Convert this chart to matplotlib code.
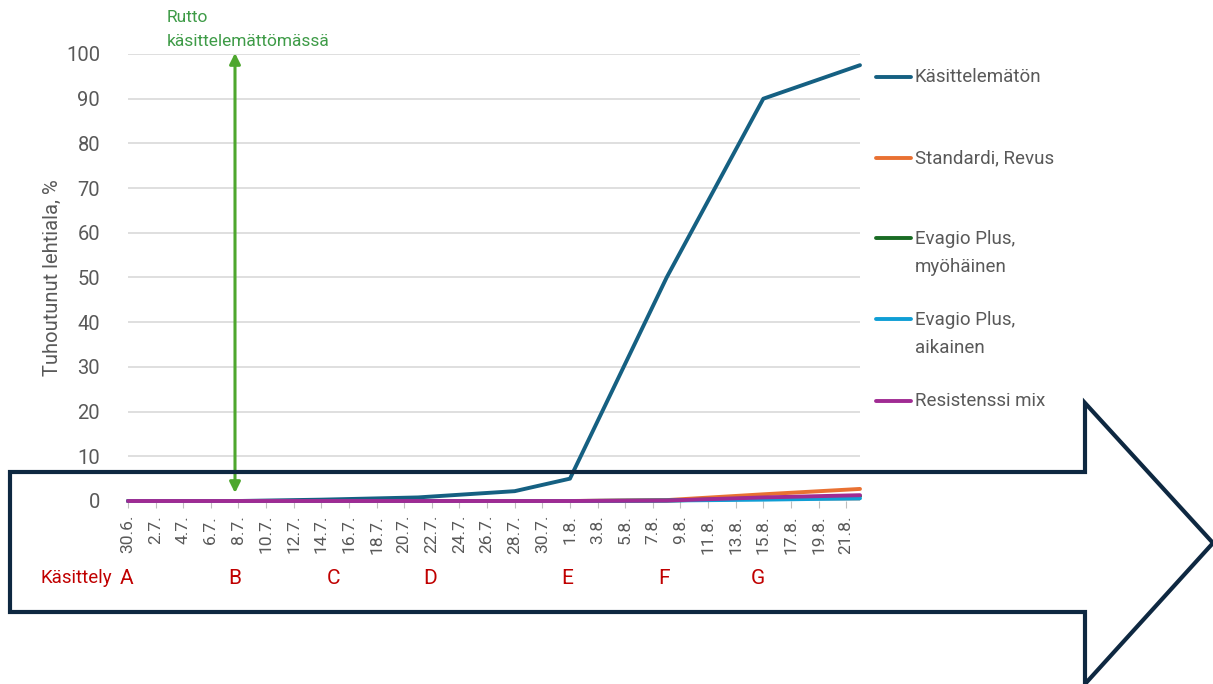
import matplotlib
matplotlib.use("Agg")
import matplotlib.pyplot as plt
import matplotlib.dates as mdates
from matplotlib.patches import Polygon
from matplotlib.lines import Line2D
import pandas as pd

plt.rcParams['font.family'] = ['Roboto', 'DejaVu Sans']

# ---- data ----
dates = pd.to_datetime(["2024-06-30", "2024-07-08", "2024-07-14", "2024-07-21", "2024-07-28",
                        "2024-08-01", "2024-08-08", "2024-08-15", "2024-08-22"])
kasittelematon = [0, 0, 0.3, 0.8, 2.2, 5.0, 50, 90, 97.5]
standardi_revus = [0, 0, 0, 0, 0, 0, 0.2, 1.5, 2.7]
evagio_myohainen = [0, 0, 0, 0, 0, 0, 0.1, 0.6, 1.1]
evagio_aikainen = [0, 0, 0, 0, 0, 0, 0.1, 0.3, 0.6]
resistenssi_mix = [0, 0, 0, 0, 0, 0, 0.1, 0.8, 1.3]

series_names = ["Käsittelemätön", "Standardi, Revus", "Evagio Plus,\nmyöhäinen",
                "Evagio Plus,\naikainen", "Resistenssi mix"]
series_values = [kasittelematon, standardi_revus, evagio_myohainen, evagio_aikainen, resistenssi_mix]
series_colors = ["#156082", "#E97132", "#196B24", "#0F9ED5", "#A02B93"]

tick_dates = pd.date_range("2024-06-30", "2024-08-21", freq="2D")
yticks = list(range(0, 101, 10))
treatments = ["A", "B", "C", "D", "E", "F", "G"]
treatment_x_px = [127, 235, 334, 430, 567, 664, 758]

W, H = 1213, 684
fig = plt.figure(figsize=(W / 100, H / 100), dpi=100)
ax = fig.add_axes([128 / W, 1 - 501 / H, (860 - 128) / W, (501 - 54) / H])

ax.set_xlim(pd.Timestamp("2024-06-30"), pd.Timestamp("2024-08-22"))
ax.set_ylim(0, 100)
ax.set_yticks(yticks)
ax.grid(axis='y', color='#d9d9d9', lw=1.2)
ax.set_axisbelow(True)
for s in ax.spines.values():
    s.set_visible(False)
ax.axhline(0, color='#bfbfbf', lw=1.2, zorder=1)

lines = []
for name, vals, col in zip(series_names, series_values, series_colors):
    ln, = ax.plot(dates, vals, color=col, lw=2.8, solid_capstyle='round', clip_on=False, zorder=3)
    lines.append(ln)

ax.set_xticks(tick_dates)
ax.set_xticklabels([f"{d.day}.{d.month}." for d in tick_dates], rotation=90)
ax.tick_params(axis='x', length=5, color='#bfbfbf', labelsize=12.5, labelcolor='#595959', pad=5)
ax.tick_params(axis='y', length=0, labelsize=14.5, labelcolor='#595959', pad=20)
ax.set_ylabel("Tuhoutunut lehtiala, %", fontsize=14.5, color='#595959', labelpad=3)

# legend (manual)
leg_y = [77, 158, 253, 334, 401]
for ln, name, y in zip(lines, series_names, leg_y):
    yf = 1 - y / H
    if "\n" in name:
        yl = 1 - (y - 15) / H
    else:
        yl = yf
    fig.add_artist(Line2D([876 / W, 911 / W], [yl, yl], color=ln.get_color(), lw=2.8,
                          solid_capstyle='round', transform=fig.transFigure))
    fig.text(915 / W, yf, name, fontsize=13.5, color='#595959', va='center', ha='left',
             linespacing=1.65)

# green double arrow
ax.annotate("", xy=(235 / W, 1 - 53 / H), xytext=(235 / W, 1 - 493 / H),
            xycoords='figure fraction', textcoords='figure fraction',
            arrowprops=dict(arrowstyle='<|-|>', color='#4EA72E', lw=2.2,
                            mutation_scale=16, shrinkA=0, shrinkB=0), zorder=6)
fig.text(167 / W, 1 - 17 / H, "Rutto", fontsize=12.5, color='#3E9B47', va='center', ha='left')
fig.text(167 / W, 1 - 41 / H, "käsittelemättömässä", fontsize=12.5, color='#3E9B47',
         va='center', ha='left')

# treatments
fig.text(40 / W, 1 - 578 / H, "Käsittely", fontsize=13.5, color='#C00000', va='center', ha='left')
for t, x in zip(treatments, treatment_x_px):
    fig.text(x / W, 1 - 578 / H, t, fontsize=15, color='#C00000', va='center', ha='center')

# big outline arrow
pts_px = [(10, 472), (1085, 472), (1085, 403), (1213, 543), (1085, 684), (1085, 612), (10, 612)]
poly = Polygon([(x / W, 1 - y / H) for x, y in pts_px], closed=True, fill=False,
               edgecolor='#0E2841', lw=3, transform=fig.transFigure, zorder=10,
               joinstyle='miter')
fig.add_artist(poly)

fig.savefig("out.png", dpi=100)
